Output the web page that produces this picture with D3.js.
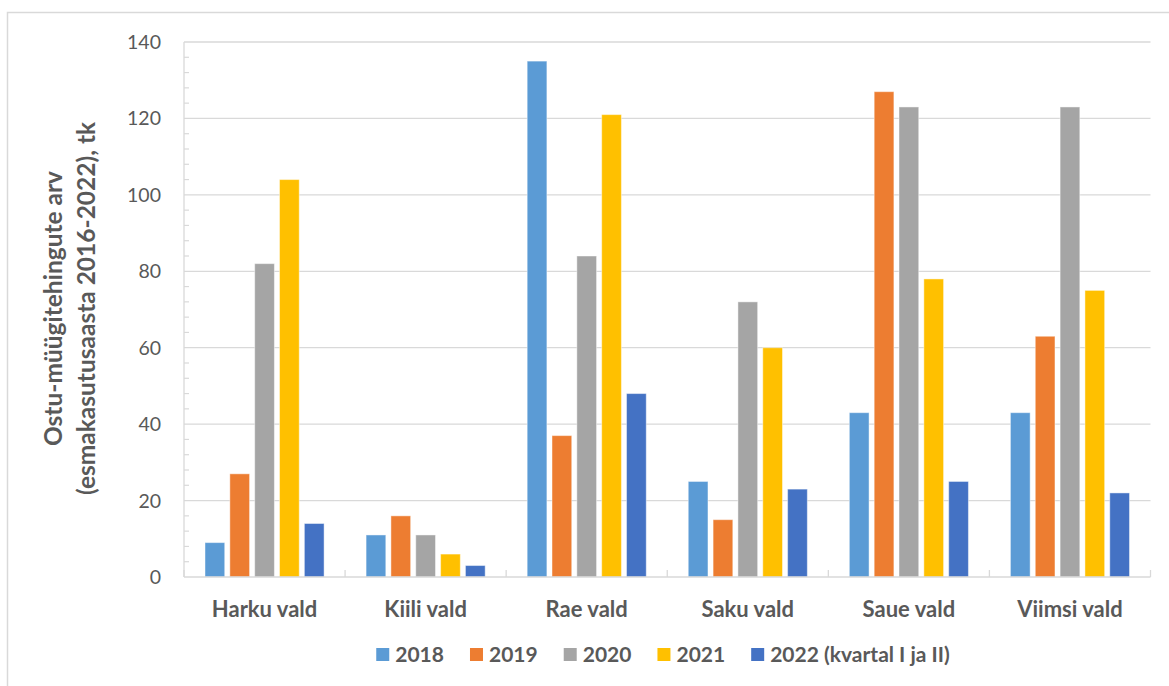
<!DOCTYPE html>
<html>
<head>
<meta charset="utf-8">
<script src="https://cdn.jsdelivr.net/npm/d3@7"></script>
<style>
  html, body { margin: 0; padding: 0; background: #fff; }
  svg { display: block; font-family: Lato, "Open Sans", sans-serif; }
</style>
</head>
<body>
<svg id="chart" width="1169" height="686"></svg>
<script>
// Municipalities (x categories)
const categories = ["Harku vald", "Kiili vald", "Rae vald", "Saku vald", "Saue vald", "Viimsi vald"];
// Series names (legend)
const seriesNames = ["2018", "2019", "2020", "2021", "2022 (kvartal I ja II)"];
// Transaction counts per series, in category order
const v2018 = [9, 11, 135, 25, 43, 43];
const v2019 = [27, 16, 37, 15, 127, 63];
const v2020 = [82, 11, 84, 72, 123, 123];
const v2021 = [104, 6, 121, 60, 78, 75];
const v2022 = [14, 3, 48, 23, 25, 22];
const yTicks = [0, 20, 40, 60, 80, 100, 120, 140];
const colors = ["#5B9BD5", "#ED7D31", "#A5A5A5", "#FFC000", "#4472C4"];

const seriesValues = [v2018, v2019, v2020, v2021, v2022];
const rows = categories.map((c, i) => ({
  category: c,
  values: seriesNames.map((s, k) => ({ series: s, idx: k, value: seriesValues[k][i] }))
}));

const svg = d3.select("#chart");
const W = 1169, H = 686;
const plot = { left: 184, right: 1150.5, top: 42, bottom: 577 };
const gridColor = "#d9d9d9";
const textColor = "#595959";

// outer frame (left and top edges)
svg.append("path")
  .attr("d", `M7.5,${H} V12.5 H${W}`)
  .attr("fill", "none").attr("stroke", gridColor).attr("stroke-width", 1.5);

const x = d3.scaleBand().domain(categories).range([plot.left, plot.right]).padding(0);
const inner = d3.scaleBand().domain(seriesNames)
  .range([21, x.bandwidth() - 21]).paddingInner(0.206).paddingOuter(0);
const y = d3.scaleLinear().domain([0, 140]).range([plot.bottom, plot.top]);

// horizontal gridlines
svg.append("g")
  .selectAll("line").data(yTicks.filter(t => t > 0)).join("line")
  .attr("x1", plot.left).attr("x2", plot.right)
  .attr("y1", d => y(d)).attr("y2", d => y(d))
  .attr("stroke", gridColor).attr("stroke-width", 1.3);

// y axis line with inward minor ticks
const yAxis = svg.append("g");
yAxis.append("line")
  .attr("x1", plot.left).attr("x2", plot.left)
  .attr("y1", plot.top).attr("y2", plot.bottom)
  .attr("stroke", gridColor).attr("stroke-width", 1.3);
yAxis.selectAll("line.minor").data(d3.range(4, 140, 4).filter(v => v % 20 !== 0)).join("line")
  .attr("class", "minor")
  .attr("x1", plot.left).attr("x2", plot.left + 5)
  .attr("y1", d => y(d)).attr("y2", d => y(d))
  .attr("stroke", gridColor).attr("stroke-width", 1.2);

// y tick labels
svg.append("g")
  .selectAll("text").data(yTicks).join("text")
  .attr("x", 161).attr("y", d => y(d))
  .attr("dy", "0.36em")
  .attr("text-anchor", "end")
  .attr("font-size", 19.5)
  .attr("fill", textColor)
  .text(d => d);

// y axis title (two lines)
const title = svg.append("text")
  .attr("transform", `translate(0,${(plot.top + plot.bottom) / 2 - 1}) rotate(-90)`)
  .attr("text-anchor", "middle")
  .attr("font-size", 24.5)
  .attr("font-weight", "bold")
  .attr("fill", textColor);
title.append("tspan").attr("x", 0).attr("y", 62).text("Ostu-müügitehingute arv");
title.append("tspan").attr("x", 0).attr("y", 95).text("(esmakasutusaasta 2016-2022), tk");

// bars
const groups = svg.append("g").selectAll("g").data(rows).join("g")
  .attr("transform", d => `translate(${x(d.category)},0)`);
groups.selectAll("rect").data(d => d.values).join("rect")
  .attr("x", d => inner(d.series))
  .attr("width", inner.bandwidth())
  .attr("y", d => y(d.value))
  .attr("height", d => y(0) - y(d.value))
  .attr("fill", d => colors[d.idx])
  .attr("stroke", "#ffffff").attr("stroke-opacity", 0.45).attr("stroke-width", 1);

// x axis line and category boundary ticks
const xAxis = svg.append("g");
xAxis.append("line")
  .attr("x1", plot.left).attr("x2", plot.right)
  .attr("y1", plot.bottom).attr("y2", plot.bottom)
  .attr("stroke", gridColor).attr("stroke-width", 1.5);
xAxis.selectAll("line.tick").data(d3.range(categories.length + 1)).join("line")
  .attr("class", "tick")
  .attr("x1", i => plot.left + i * x.step()).attr("x2", i => plot.left + i * x.step())
  .attr("y1", plot.bottom).attr("y2", plot.bottom - 7)
  .attr("stroke", gridColor).attr("stroke-width", 1.3);

// category labels
svg.append("g")
  .selectAll("text").data(categories).join("text")
  .attr("x", d => x(d) + x.bandwidth() / 2)
  .attr("y", 617)
  .attr("text-anchor", "middle")
  .attr("font-size", 22)
  .attr("font-weight", "bold")
  .attr("fill", textColor)
  .text(d => d);

// legend
const legend = svg.append("g");
const items = legend.selectAll("g").data(seriesNames).join("g");
items.append("rect")
  .attr("width", 13).attr("height", 13)
  .attr("y", 648)
  .attr("fill", (d, i) => colors[i]);
items.append("text")
  .attr("x", 19).attr("y", 662)
  .attr("font-size", 21)
  .attr("font-weight", "bold")
  .attr("fill", textColor)
  .text(d => d);
let lx = 0;
const offsets = [];
items.each(function () {
  offsets.push(lx);
  const w = d3.select(this).select("text").node().getComputedTextLength();
  lx += 19 + w + 26;
});
const totalW = lx - 26;
const startX = 663 - totalW / 2;
items.attr("transform", (d, i) => `translate(${startX + offsets[i]},0)`);
</script>
</body>
</html>
